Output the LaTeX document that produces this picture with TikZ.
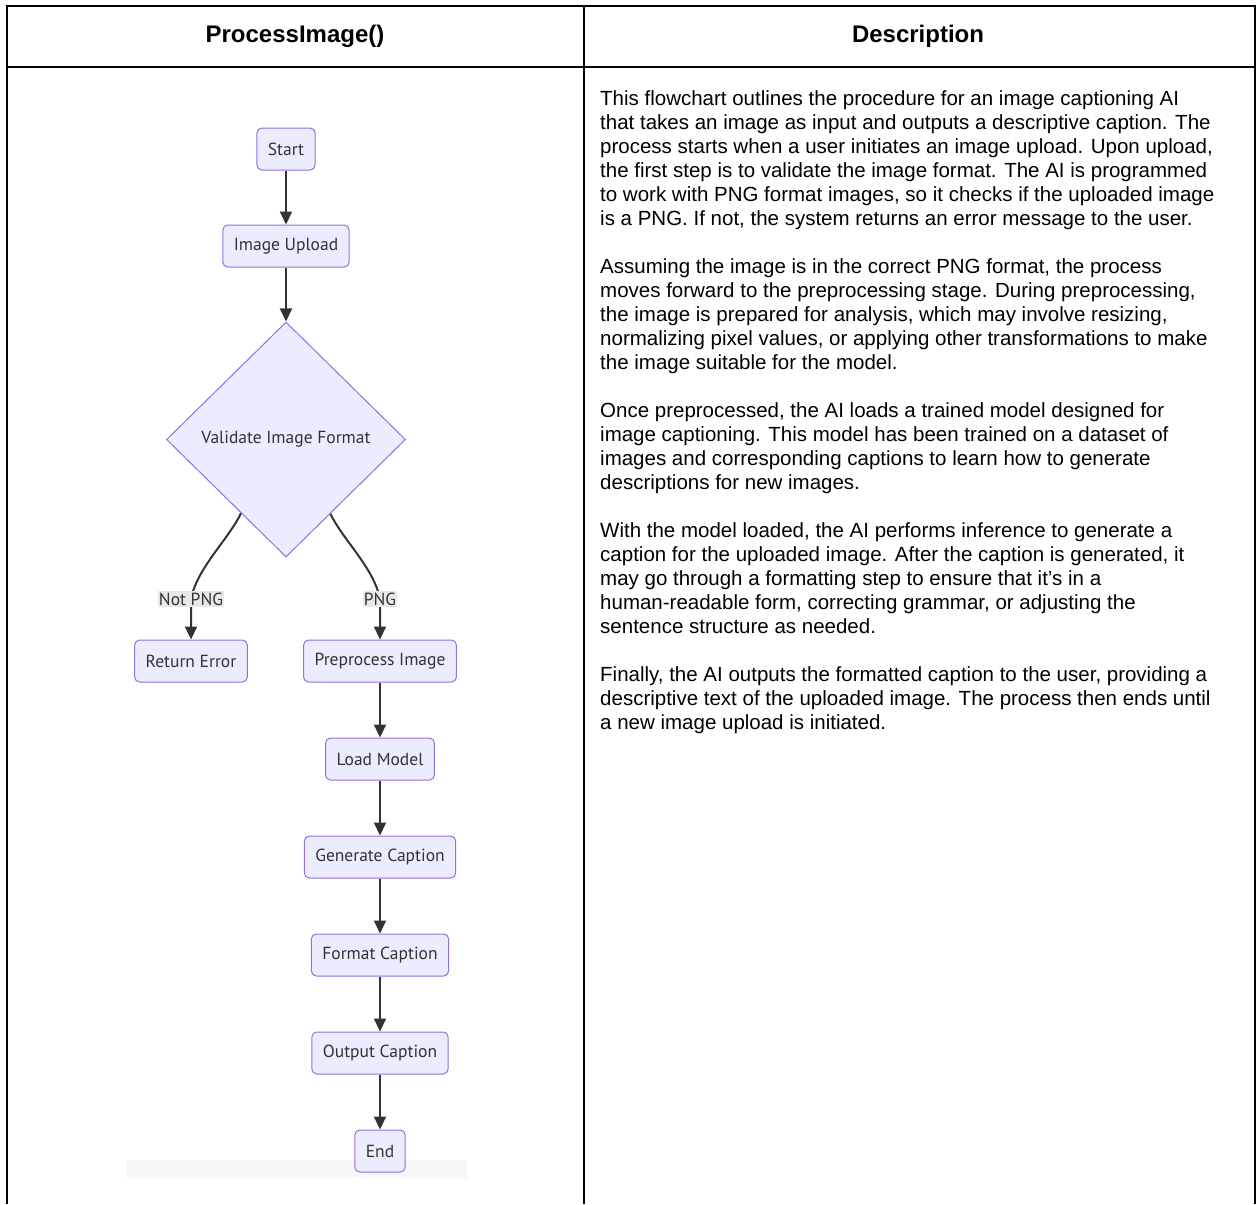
\documentclass[tikz,border=0pt]{standalone}
\usepackage{fontspec}
\setmainfont{Liberation Sans}
\newfontfamily\chartfont{PT Sans}
\usetikzlibrary{positioning,shapes.geometric,arrows.meta,calc}
\definecolor{boxfill}{HTML}{ECECFF}
\definecolor{boxline}{HTML}{9370DB}
\definecolor{inkgray}{HTML}{333333}
\definecolor{lblgray}{HTML}{E8E8E8}
\tikzset{
  box/.style={draw=boxline,fill=boxfill,line width=1pt,rounded corners=5pt,
    minimum height=42pt,inner xsep=11pt,text=inkgray,
    font=\chartfont\fontsize{17.5}{20}\selectfont},
  decision/.style={diamond,draw=boxline,fill=boxfill,line width=1pt,
    minimum width=239pt,minimum height=235pt,inner sep=0pt,text=inkgray,
    font=\chartfont\fontsize{17.5}{20}\selectfont},
  flow/.style={draw=inkgray,line width=2pt,-{Triangle[length=13pt,width=12pt]}},
  lbl/.style={fill=lblgray,text=inkgray,inner xsep=1pt,inner ysep=2pt,
    font=\chartfont\fontsize{17.5}{20}\selectfont},
  tbl/.style={line width=2pt},
  head/.style={font=\bfseries\fontsize{24}{28}\selectfont},
  body/.style={align=left,inner sep=0pt,font=\fontsize{20.5}{24}\selectfont}
}

\begin{document}
\begin{tikzpicture}[x=1pt,y=-1pt,node distance=55pt]
  \useasboundingbox (0,0) rectangle (1257,1204);
  % table
  \draw[tbl] (7,1204) -- (7,6) -- (1255,6) -- (1255,1204);
  \draw[tbl] (7,67) -- (1255,67);
  \draw[tbl] (584,6) -- (584,1204);
  \node[head] (hleft) at (295,36) {ProcessImage()};
  \node[head] (hright) at (918,36) {Description};

  % flowchart
  \fill[black!3] (127,1160) rectangle (467,1178);
  \node[box] (start) at (286,149) {Start};
  \node[box,below=54pt of start] (upload) {Image Upload};
  \node[decision,below=54pt of upload] (valid) {Validate Image Format};
  \node[box] (error) at (191,661) {Return Error};
  \node[box] (prep) at (380,661) {Preprocess Image};
  \node[box,below=of prep] (load) {Load Model};
  \node[box,below=of load] (gen) {Generate Caption};
  \node[box,below=of gen] (fmt) {Format Caption};
  \node[box,below=of fmt] (out) {Output Caption};
  \node[box,below=of out] (stop) {End};

  \draw[flow] (start) -- (upload);
  \draw[flow] (upload) -- (valid);
  \coordinate (vl) at ($(valid.west)!0.625!(valid.south)$);
  \coordinate (vr) at ($(valid.south)!0.37!(valid.east)$);
  \coordinate (nopos) at (191,599);
  \coordinate (yespos) at (380,599);
  \draw[flow] (vl) .. controls (228,540) and (197,568) .. (nopos) -- (error);
  \draw[flow] (vr) .. controls (343,540) and (374,568) .. (yespos) -- (prep);
  \node[lbl] (nopng) at (nopos) {Not PNG};
  \node[lbl] (png) at (yespos) {PNG};
  \foreach \a/\b in {prep/load,load/gen,gen/fmt,fmt/out,out/stop}
    \draw[flow] (\a) -- (\b);

  % description
  \node[body,anchor=north west] (desc) at (600,90) {%
    This flowchart outlines the procedure for an image captioning AI\\
    that takes an image as input and outputs a descriptive caption. The\\
    process starts when a user initiates an image upload. Upon upload,\\
    the first step is to validate the image format. The AI is programmed\\
    to work with PNG format images, so it checks if the uploaded image\\
    is a PNG. If not, the system returns an error message to the user.\\[24pt]
    Assuming the image is in the correct PNG format, the process\\
    moves forward to the preprocessing stage. During preprocessing,\\
    the image is prepared for analysis, which may involve resizing,\\
    normalizing pixel values, or applying other transformations to make\\
    the image suitable for the model.\\[24pt]
    Once preprocessed, the AI loads a trained model designed for\\
    image captioning. This model has been trained on a dataset of\\
    images and corresponding captions to learn how to generate\\
    descriptions for new images.\\[24pt]
    With the model loaded, the AI performs inference to generate a\\
    caption for the uploaded image. After the caption is generated, it\\
    may go through a formatting step to ensure that it's in a\\
    human-readable form, correcting grammar, or adjusting the\\
    sentence structure as needed.\\[24pt]
    Finally, the AI outputs the formatted caption to the user, providing a\\
    descriptive text of the uploaded image. The process then ends until\\
    a new image upload is initiated.};
\end{tikzpicture}
\end{document}
